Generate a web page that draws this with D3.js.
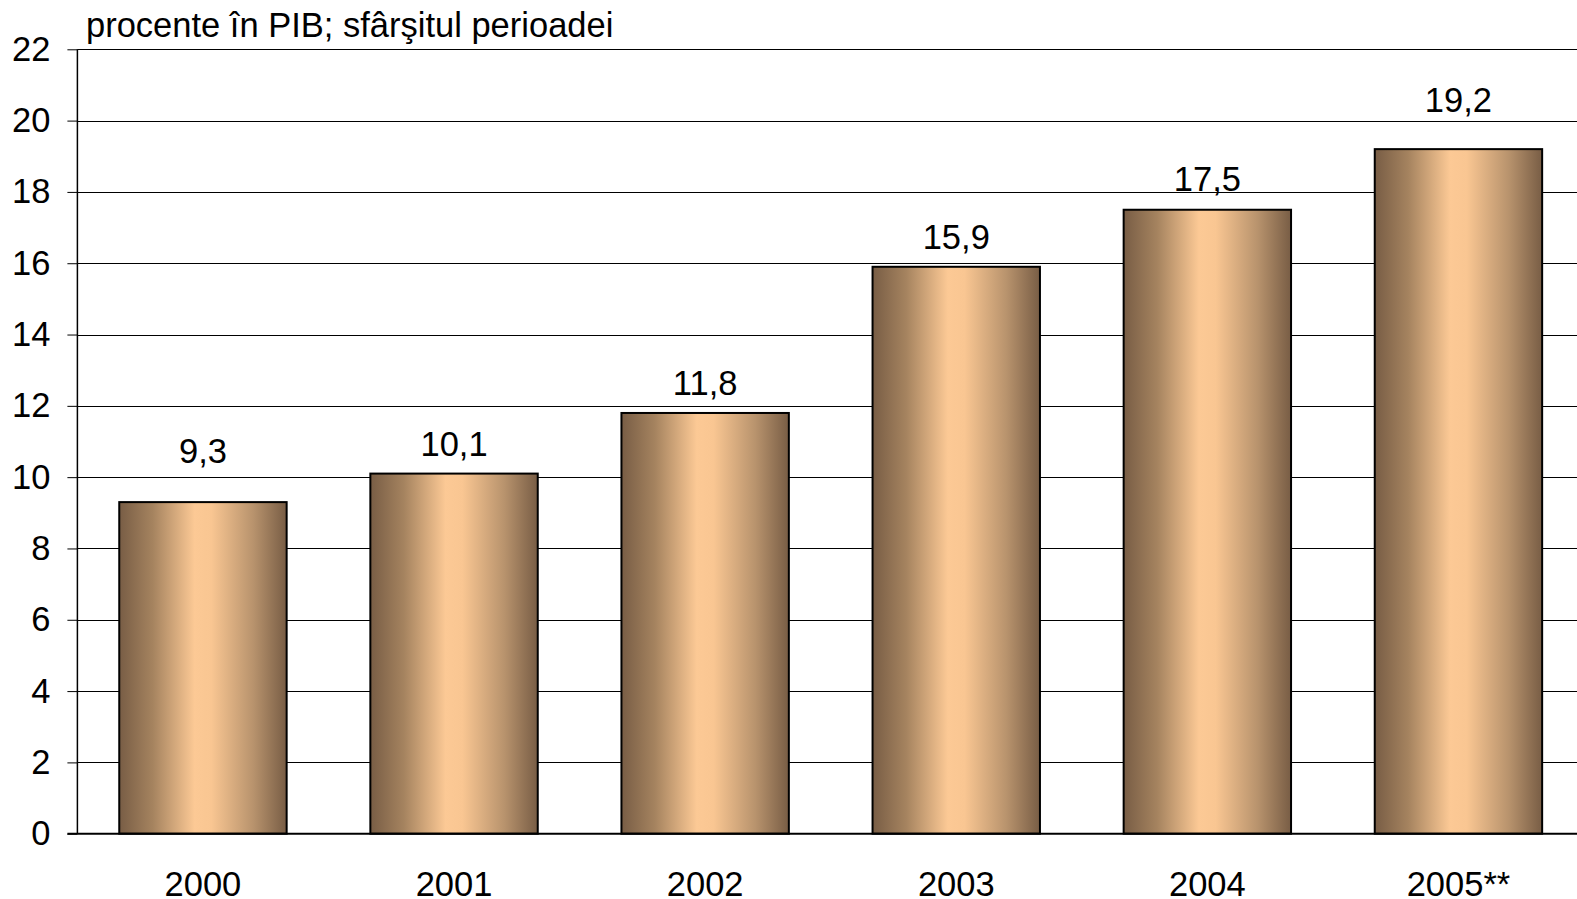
<!DOCTYPE html>
<html>
<head>
<meta charset="utf-8">
<script src="https://cdn.jsdelivr.net/npm/d3@7"></script>
<style>
    body { margin: 0; background: #fff; }
    svg { display: block; font-family: "Liberation Sans", Arial, sans-serif; }
</style>
</head>
<body>
<div id="container"></div>
<script>
const years = ["2000", "2001", "2002", "2003", "2004", "2005**"];
const values = [9.3, 10.1, 11.8, 15.9, 17.5, 19.2];
const yTicks = [0, 2, 4, 6, 8, 10, 12, 14, 16, 18, 20, 22];
const unitLabel = "procente în PIB; sfârşitul perioadei";

// distance of each value label above its bar (labels were placed by hand in the original)
const labelGap = [39, 18, 18, 18, 19, 37];

const w = 1577,
    h = 899;
const fontSize = 34.5;

const margin = {
    top: 49.3,
    left: 77.4,
    bottom: 833.7
};

const xScale = d3.scaleBand()
    .domain(years)
    .range([margin.left, 1584])
    .paddingInner(1 / 3)
    .paddingOuter(1 / 6);

const yScale = d3.scaleLinear()
    .domain([0, 22])
    .range([margin.bottom, margin.top]);

let svg = d3.select("#container")
    .append("svg")
    .attr("width", w)
    .attr("height", h);

// horizontal gradient like the original bars
let grad = svg.append("defs")
    .append("linearGradient")
    .attr("id", "barGrad")
    .attr("x1", "0%").attr("x2", "100%")
    .attr("y1", "0%").attr("y2", "0%");
grad.append("stop").attr("offset", "0%").attr("stop-color", "#785d45");
grad.append("stop").attr("offset", "20%").attr("stop-color", "#a5835f");
grad.append("stop").attr("offset", "45%").attr("stop-color", "#fcc995");
grad.append("stop").attr("offset", "55%").attr("stop-color", "#f9c692");
grad.append("stop").attr("offset", "80%").attr("stop-color", "#b8936d");
grad.append("stop").attr("offset", "100%").attr("stop-color", "#785d45");

// y axis ticks
const yAxis = d3.axisLeft(yScale)
    .tickValues(yTicks)
    .tickSize(10)
    .tickPadding(17)
    .tickFormat(d3.format("d"));

let yG = svg.append("g")
    .attr("transform", "translate(" + margin.left + ",0)")
    .call(yAxis);
yG.select(".domain").remove();
yG.selectAll(".tick line").attr("stroke", "#000").attr("stroke-width", 1);
yG.selectAll(".tick text")
    .attr("font-size", fontSize)
    .attr("fill", "#000")
    .attr("font-family", "Liberation Sans, Arial, sans-serif");

// gridlines
svg.append("g")
    .selectAll("line")
    .data(yTicks.filter((d) => d > 0))
    .enter()
    .append("line")
    .attr("x1", margin.left)
    .attr("x2", w)
    .attr("y1", (d) => Math.round(yScale(d)) + 0.5)
    .attr("y2", (d) => Math.round(yScale(d)) + 0.5)
    .attr("stroke", "#000")
    .attr("stroke-width", 1);

// bars
svg.selectAll("rect.bar")
    .data(values)
    .enter()
    .append("rect")
    .attr("class", "bar")
    .attr("x", (d, i) => xScale(years[i]))
    .attr("y", (d) => yScale(d))
    .attr("width", xScale.bandwidth())
    .attr("height", (d) => yScale(0) - yScale(d))
    .attr("fill", "url(#barGrad)")
    .attr("stroke", "#000")
    .attr("stroke-width", 2);

// value labels
svg.selectAll("text.val")
    .data(values)
    .enter()
    .append("text")
    .attr("class", "val")
    .attr("x", (d, i) => xScale(years[i]) + xScale.bandwidth() / 2)
    .attr("y", (d, i) => yScale(d) - labelGap[i])
    .attr("text-anchor", "middle")
    .attr("font-size", fontSize)
    .text((d) => d.toFixed(1).replace(".", ","));

// left axis line and baseline
svg.append("line")
    .attr("x1", margin.left).attr("x2", margin.left)
    .attr("y1", margin.top).attr("y2", margin.bottom)
    .attr("stroke", "#000").attr("stroke-width", 1.5);
svg.append("line")
    .attr("x1", margin.left - 10).attr("x2", w)
    .attr("y1", margin.bottom).attr("y2", margin.bottom)
    .attr("stroke", "#000").attr("stroke-width", 2);

// x labels
svg.selectAll("text.year")
    .data(years)
    .enter()
    .append("text")
    .attr("class", "year")
    .attr("x", (d) => xScale(d) + xScale.bandwidth() / 2)
    .attr("y", 896)
    .attr("text-anchor", "middle")
    .attr("font-size", fontSize)
    .text((d) => d);

// unit label
svg.append("text")
    .attr("x", 86)
    .attr("y", 37)
    .attr("font-size", fontSize)
    .text(unitLabel);
</script>
</body>
</html>
